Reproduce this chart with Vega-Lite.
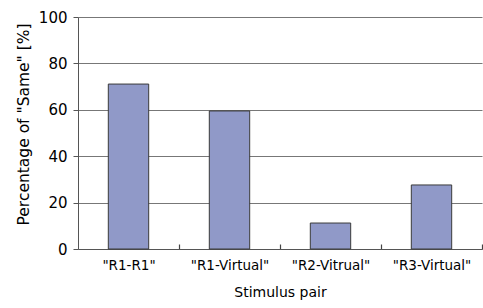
{
  "$schema": "https://vega.github.io/schema/vega-lite/v6.json",
  "width": 404,
  "height": 232,
  "autosize": {"type": "none"},
  "padding": {"left": 78, "top": 17, "right": 1, "bottom": 59},
  "background": "white",
  "config": {"view": {"stroke": null}, "font": "DejaVu Sans"},
  "data": {"values": [
    {"pair": "\"R1-R1\"", "pct": 71.1},
    {"pair": "\"R1-Virtual\"", "pct": 59.5},
    {"pair": "\"R2-Vitrual\"", "pct": 11.2},
    {"pair": "\"R3-Virtual\"", "pct": 27.6}
  ]},
  "mark": {"type": "bar", "color": "#9099c8", "stroke": "#3a3a3a", "strokeWidth": 1},
  "encoding": {
    "x": {
      "field": "pair", "type": "nominal", "sort": null,
      "scale": {"paddingInner": 0.6, "paddingOuter": 0.3},
      "axis": {
        "title": "Stimulus pair", "titleFontSize": 14, "titleFontWeight": "normal", "titleColor": "#000",
        "titlePadding": 14,
        "labelAngle": 0, "labelFontSize": 13.5, "labelColor": "#000", "labelPadding": 14,
        "tickOffset": 50.5, "labelOffset": -50.5, "tickSize": -5, "tickWidth": 1.2, "tickColor": "#444",
        "domainColor": "#555", "grid": false
      }
    },
    "y": {
      "field": "pct", "type": "quantitative",
      "scale": {"domain": [0, 100]},
      "axis": {
        "title": "Percentage of \"Same\" [%]", "titleFontSize": 15.5, "titleFontWeight": "normal", "titleColor": "#000",
        "titleX": -47, "titleY": 107,
        "values": [0, 20, 40, 60, 80, 100],
        "labelFontSize": 15, "labelColor": "#000", "labelPadding": 6,
        "tickSize": 5, "tickColor": "#555", "domainColor": "#555",
        "grid": true, "gridColor": "#777", "gridWidth": 1
      }
    }
  }
}
